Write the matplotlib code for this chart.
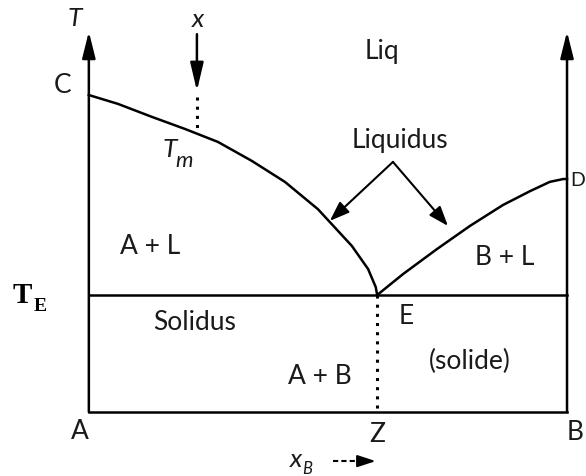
import matplotlib
matplotlib.use('Agg')
import matplotlib.pyplot as plt

# composition x_B (0 = A, 1 = B) and temperature (arbitrary units, C = 100)
liq_A_x = [0.000, 0.061, 0.132, 0.201, 0.270, 0.341, 0.410, 0.479, 0.550, 0.584, 0.600, 0.603]
liq_A_T = [100.0, 97.2, 93.1, 89.3, 85.2, 79.2, 72.6, 64.0, 52.4, 45.1, 39.4, 36.9]
liq_B_x = [0.603, 0.657, 0.728, 0.797, 0.866, 0.923, 0.964, 0.992, 1.000]
liq_B_T = [36.9, 43.5, 51.4, 58.7, 65.3, 69.7, 72.6, 73.5, 73.5]

T_E = 36.9
x_E = 0.603
x_m = 0.226
T_m = 88.8
T_top = 120.0

fig = plt.figure(figsize=(5.86, 4.77), dpi=100)
ax = fig.add_axes([0, 0, 1, 1])
ax.set_xlim(-0.1858, 1.0397)
ax.set_ylim(-20.2, 130.3)
ax.axis('off')

lw = 1.8
font = 'Lato'
fs = 19
tc = '#1a1a1a'

def arrow(tip, tail, hl, hw, lw=lw):
    ax.annotate('', xy=tip, xytext=tail,
                arrowprops=dict(arrowstyle='-|>,head_length=%s,head_width=%s' % (hl, hw),
                                lw=lw, color='k', mutation_scale=20,
                                shrinkA=0, shrinkB=0))

# axes with arrows
for xa in (0, 1):
    arrow((xa, T_top), (xa, 0), 0.8, 0.2)

# base line and eutectic line
ax.plot([0, 1], [0, 0], color='k', lw=lw)
ax.plot([0, 1], [T_E, T_E], color='k', lw=lw)

# liquidus curves
ax.plot(liq_A_x, liq_A_T, color='k', lw=lw, solid_joinstyle='round')
ax.plot(liq_B_x, liq_B_T, color='k', lw=lw, solid_joinstyle='round')

# dotted line below E
ax.plot([x_E, x_E], [T_E, 0], color='k', lw=2.2, linestyle=(0, (1, 2)))

# composition x arrow and dotted line to Tm
arrow((x_m, 101.3), (x_m, 119.2), 0.85, 0.2)
ax.plot([x_m, x_m], [99.5, T_m], color='k', lw=2.2, linestyle=(0, (1, 2)))

# Liquidus pointer arrows
apex = (0.636, 78.9)
for tip in [(0.504, 60.3), (0.751, 58.7)]:
    arrow(tip, apex, 0.6, 0.22, lw=1.5)

# x_B dashed arrow
ax.plot([0.510, 0.578], [-15.5, -15.5], color='k', lw=1.5, linestyle=(0, (2.5, 1.5)))
arrow((0.600, -15.5), (0.575, -15.5), 0.55, 0.18, lw=1.5)

# labels
def label(x, y, s, **kw):
    kw.setdefault('fontsize', fs)
    kw.setdefault('family', font)
    ax.text(x, y, s, ha='center', va='center', color=tc, **kw)

label(-0.029, 124.6, 'T', style='italic')
label(0.228, 124.0, 'x', style='italic')
label(-0.056, 103.2, 'C')
label(0.169, 83.0, 'T', style='italic')
label(0.200, 79.6, 'm', style='italic', fontsize=16)
label(0.613, 113.9, 'Liq')
label(0.651, 86.1, 'Liquidus')
ax.text(1.037, 73.5, 'D', ha='right', va='center', fontsize=14, family=font, color=tc)
label(0.128, 52.4, 'A + L')
label(0.870, 48.9, 'B + L')
label(0.222, 28.4, 'Solidus')
label(0.663, 30.3, 'E')
label(0.797, 16.1, '(solide)')
label(0.483, 11.4, 'A + B')
label(-0.019, -6.0, 'A')
label(0.603, -6.9, 'Z')
label(1.017, -6.3, 'B')
label(0.433, -14.6, 'x', style='italic')
label(0.457, -17.6, 'B', style='italic', fontsize=12)

# T_E in bold serif
ax.text(-0.140, 37.2, 'T', ha='center', va='center', fontsize=21,
        family='Liberation Serif', weight='bold')
ax.text(-0.102, 33.6, 'E', ha='center', va='center', fontsize=14,
        family='Liberation Serif', weight='bold')

fig.savefig('out.png', dpi=100)
